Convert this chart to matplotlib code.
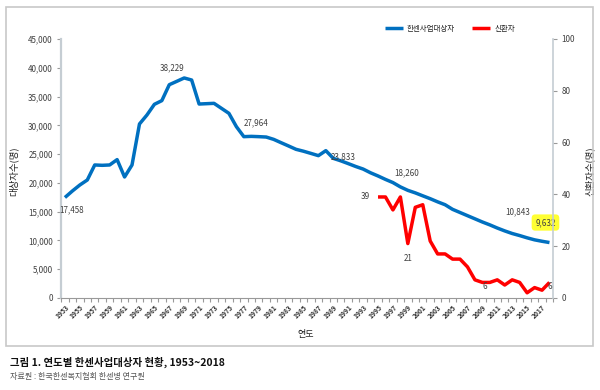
import matplotlib
matplotlib.use("Agg")
import matplotlib.pyplot as plt
from matplotlib.patches import Rectangle
from matplotlib.ticker import FuncFormatter, MultipleLocator

plt.rcParams['font.family'] = ['Noto Sans CJK KR', 'DejaVu Sans']

# 한센사업대상자 (1953~2018)
years = list(range(1953, 2019))
patients = [17458, 18590, 19630, 20500, 23110, 23050, 23110, 24040, 21020, 23110,
            30230, 31790, 33650, 34290, 37060, 37640, 38229, 37870, 33700, 33760,
            33820, 32950, 32080, 29770, 28030, 28080, 28030, 27964, 27560, 26980,
            26410, 25830, 25500, 25120, 24730, 25600, 24260, 23833, 23350, 22850,
            22400, 21750, 21200, 20600, 20050, 19300, 18700, 18260, 17750, 17250,
            16700, 16200, 15400, 14850, 14300, 13750, 13200, 12700, 12150, 11650,
            11200, 10843, 10450, 10100, 9850, 9632]

# 신환자 (1995~2018)
new_years = list(range(1995, 2019))
new_cases = [39, 39, 34, 39, 21, 35, 36, 22, 17, 17, 15, 15, 12, 7, 6, 6, 7, 5,
             7, 6, 2, 4, 3, 6]

# 값 표시할 연도와 글자 위치(픽셀 offset)
blue_labels = {1953: (7, -12), 1969: (-12, 10), 1980: (-10, 14), 1990: (2, 4),
               2000: (-9, 20), 2014: (-2, 24), 2018: (-4, 20)}
red_labels = {1995: (-13, 0), 1999: (0, -15), 2009: (2, -4), 2018: (0, -4)}

blue = '#0070C0'
red = '#FF0000'
txt = '#404040'

fig = plt.figure(figsize=(6, 3.9), dpi=100)
fig.patches.append(Rectangle((0.01, 0.113), 0.978, 0.869, transform=fig.transFigure,
                             fill=False, edgecolor='#c8c8c8', linewidth=1.2))

ax = fig.add_axes([0.102, 0.236, 0.82, 0.664])
ax2 = ax.twinx()

l1, = ax.plot(years, patients, color=blue, lw=2.5, solid_capstyle='butt')
l2, = ax2.plot(new_years, new_cases, color=red, lw=2.5, solid_capstyle='butt')

ax.set_xlim(1952.5, 2018.5)
ax.set_ylim(0, 45000)
ax2.set_ylim(0, 100)

ax.yaxis.set_major_locator(MultipleLocator(5000))
ax.yaxis.set_major_formatter(FuncFormatter(lambda v, p: f'{int(v):,}'))
ax2.yaxis.set_major_locator(MultipleLocator(20))

ax.set_xticks([y + 0.5 for y in range(1952, 2019)])
ax.set_xticklabels([])
ax.set_xticks(years[::2], minor=True)
ax.set_xticklabels([str(y) for y in years[::2]], minor=True, rotation=45,
                   ha='right', rotation_mode='anchor', fontsize=4.8,
                   fontweight='bold', color='#333333')
ax.tick_params(axis='x', which='major', length=3, color='#999999')
ax.tick_params(axis='x', which='minor', length=0, pad=4)

for a in (ax, ax2):
    for s in a.spines.values():
        s.set_visible(False)
ax.spines['left'].set_visible(True)
ax.spines['bottom'].set_visible(True)
ax2.spines['right'].set_visible(True)
ax.spines['left'].set_color('#c5cdd3')
ax.spines['left'].set_linewidth(1.6)
ax.spines['bottom'].set_color('#999999')
ax2.spines['right'].set_color('#c5cdd3')
ax2.spines['right'].set_linewidth(1.2)

ax.tick_params(axis='y', length=3, color='#999999', labelsize=5.8, labelcolor=txt, pad=3)
ax2.tick_params(axis='y', length=3, color='#999999', labelsize=5.8, labelcolor=txt, pad=3)

ax.set_ylabel('대상자수(명)', fontsize=6.8, color='#222222')
ax.yaxis.set_label_coords(-0.087, 0.49)
ax2.set_ylabel('신환자수(명)', fontsize=6.8, color='#222222', rotation=90)
ax2.yaxis.set_label_coords(1.065, 0.49)
ax.set_xlabel('연도', fontsize=6.5, color='#222222')
ax.xaxis.set_label_coords(0.496, -0.124)

for yr, off in blue_labels.items():
    v = patients[years.index(yr)]
    kw = {}
    if yr == 2018:
        kw['bbox'] = dict(boxstyle='round,pad=0.45', fc='#ffff33', ec='none')
    ax.annotate(f'{v:,}', xy=(yr, v), xytext=off, textcoords='offset pixels',
                ha='center', va='center', fontsize=5.8, color=txt, **kw)

for yr, off in red_labels.items():
    v = new_cases[new_years.index(yr)]
    ax2.annotate(str(v), xy=(yr, v), xytext=off, textcoords='offset pixels',
                 ha='center', va='center', fontsize=5.8, color=txt)

ax.legend([l1, l2], ['한센사업대상자', '신환자'], loc='center',
          bbox_to_anchor=(0.75, 0.926), bbox_transform=fig.transFigure, ncol=2,
          frameon=False, fontsize=5.4, handlelength=2.3, handletextpad=0.6,
          columnspacing=2.3, labelcolor='#222222')

fig.text(0.017, 0.072, '그림 1. 연도별 한센사업대상자 현황, 1953~2018',
         fontsize=7.5, fontweight='bold', color='#111111', va='center')
fig.text(0.017, 0.034, '자료원 : 한국한센복지협회 한센병 연구원',
         fontsize=5.8, color='#555555', va='center')

fig.savefig('out.png', dpi=100)
